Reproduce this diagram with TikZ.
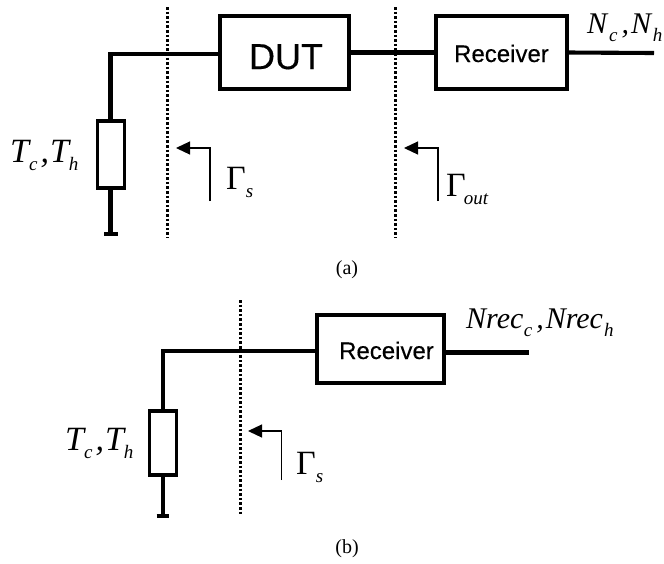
\documentclass[tikz,border=0pt]{standalone}
\usepackage{fontspec}
\setmainfont{Liberation Serif}
\newfontface\boxfont{Liberation Sans}[FakeBold=0.3]
\usetikzlibrary{arrows.meta}
\tikzset{
  boxnode/.style={draw=black,line width=3.9pt,inner sep=0pt,outer sep=0pt,fill=white},
  wire/.style={draw=black,line width=4.1pt},
  planeline/.style={draw=black,line width=3pt,dash pattern=on 2.6pt off 2pt},
  gndbar/.style={draw=black,line width=4.4pt},
  gamma/.style={draw=black,line width=1.2pt,-{Triangle[length=14pt,width=13pt]}},
  mathlabel/.style={anchor=base west,inner sep=0pt,font=\fontsize{34}{34}\selectfont},
  nlabel/.style={anchor=base west,inner sep=0pt,font=\fontsize{30}{30}\selectfont},
  caption/.style={anchor=base,inner sep=0pt,font=\fontsize{20}{20}\selectfont},
  duttext/.style={anchor=base,inner sep=0pt,font=\boxfont\fontsize{36}{36}\selectfont},
  rectext/.style={anchor=base,inner sep=0pt,font=\boxfont\fontsize{24}{24}\selectfont},
}
\newcommand{\subs}[1]{\raisebox{-8pt}{\fontsize{19}{19}\selectfont\itshape #1}}
\newcommand{\tlabel}{\textit{T}\kern-2pt\subs{c}\kern3pt\textit{,}\kern1pt\textit{T}\kern-2pt\subs{h}}
\begin{document}
\begin{tikzpicture}[x=1pt,y=-1pt]
\useasboundingbox (0,0) rectangle (664,563);
% (a)
\draw[planeline] (167.5,7) coordinate (pa1) -- (167.5,238) coordinate (pa2);
\draw[planeline] (395.5,7) coordinate (pb1) -- (395.5,238) coordinate (pb2);
\node[boxnode,minimum width=129pt,minimum height=73.5pt] (dut) at (284.5,52.5) {};
\node[boxnode,minimum width=131pt,minimum height=73.5pt] (reca) at (501.5,52.5) {};
\node[boxnode,minimum width=27pt,minimum height=67pt] (resa) at (111,154.5) {};
\coordinate (corna) at (110.5,54);
\coordinate (gnda) at (110.5,234);
\coordinate (gndal) at (104,234);
\coordinate (gndar) at (118,234);
\coordinate (outa) at (654,53);
\draw[wire] (resa.north -| corna) -- (corna) -- (corna -| dut.west);
\draw[wire] (dut.east) -- (reca.west);
\draw[wire] (reca.east) -- (outa);
\draw[wire] (resa.south -| gnda) -- (gnda);
\draw[gndbar] (gndal) -- (gndar);
\coordinate (ga1) at (210,201); \coordinate (ga2) at (210,148); \coordinate (ga3) at (176,148);
\draw[gamma] (ga1) -- (ga2) -- (ga3);
\coordinate (gb1) at (438,201); \coordinate (gb2) at (438,148); \coordinate (gb3) at (404,148);
\draw[gamma] (gb1) -- (gb2) -- (gb3);
\node[duttext] (dutt) at (286,69) {DUT};
\node[rectext] (recat) at (501.5,62) {Receiver};
\node[mathlabel] (ta) at (10,162) {\tlabel};
\node[mathlabel] (gsa) at (226,189) {Γ\subs{s}};
\node[mathlabel] (goa) at (446,196) {Γ\kern-2pt\subs{out}};
\node[nlabel] (na) at (587,33) {\textit{N}\kern.5pt\subs{c}\kern4pt\textit{,}\kern2pt\textit{N}\kern.5pt\subs{h}};
\node[caption] (capa) at (347,274) {(a)};
% (b)
\draw[planeline] (240,300) coordinate (pc1) -- (240,515) coordinate (pc2);
\node[boxnode,minimum width=127.5pt,minimum height=68.5pt] (recb) at (380.5,349) {};
\node[boxnode,minimum width=27pt,minimum height=63.5pt] (resb) at (163,442.8) {};
\coordinate (cornb) at (162.7,350.7);
\coordinate (gndb) at (162.7,516);
\coordinate (gndbl) at (156.5,516);
\coordinate (gndbr) at (169,516);
\coordinate (outb) at (529,352.5);
\draw[wire] (resb.north -| cornb) -- (cornb) -- (cornb -| recb.west);
\draw[wire] (recb.east |- outb) -- (outb);
\draw[wire] (resb.south -| gndb) -- (gndb);
\draw[gndbar] (gndbl) -- (gndbr);
\coordinate (gc1) at (281.7,480); \coordinate (gc2) at (281.7,431); \coordinate (gc3) at (248,431);
\draw[gamma] (gc1) -- (gc2) -- (gc3);
\node[rectext] (recbt) at (386.5,359) {Receiver};
\node[mathlabel] (tb) at (65,450) {\tlabel};
\node[mathlabel] (gsb) at (296,474) {Γ\subs{s}};
\node[nlabel] (nb) at (466,328) {\textit{Nrec}\kern.5pt\subs{c}\kern4pt\textit{,}\kern2pt\textit{Nrec}\kern1pt\subs{h}};
\node[caption] (capb) at (347,553) {(b)};
\end{tikzpicture}
\end{document}
